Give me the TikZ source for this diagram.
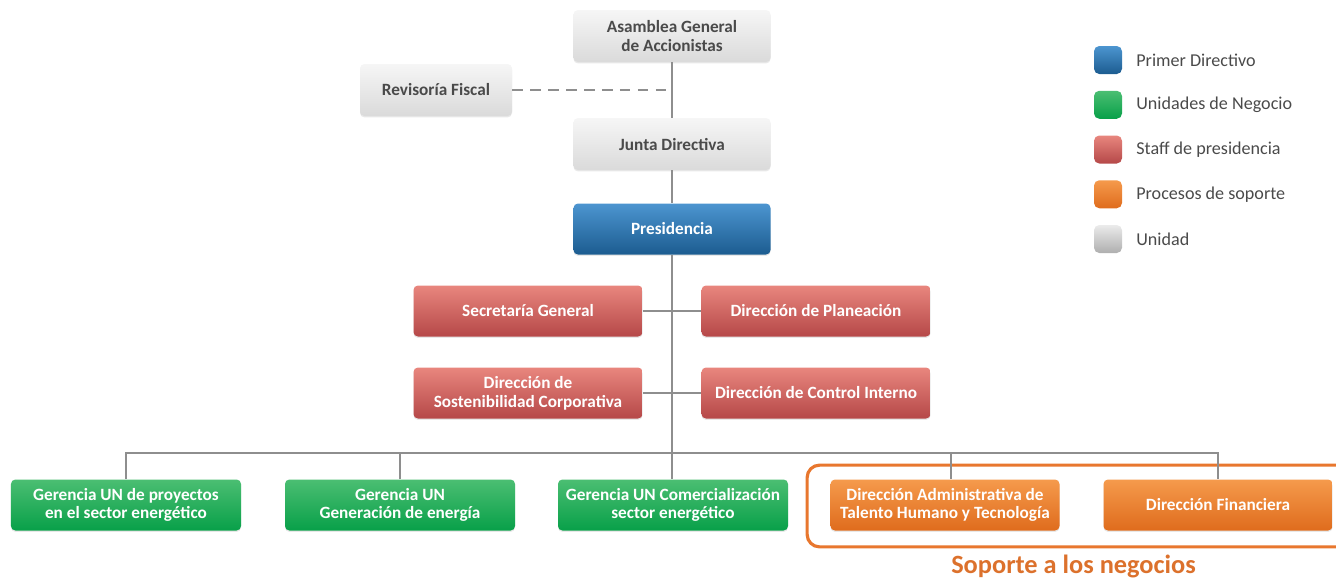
\documentclass[tikz,border=0pt]{standalone}
\usepackage{fontspec}
\setmainfont{Carlito}
\usetikzlibrary{shadows}

\definecolor{grisA}{HTML}{F6F6F6}
\definecolor{grisB}{HTML}{DADADA}
\definecolor{grisT}{HTML}{4A4A4A}
\definecolor{azulA}{HTML}{4C95D0}
\definecolor{azulB}{HTML}{1C5C90}
\definecolor{rojoA}{HTML}{E8867E}
\definecolor{rojoB}{HTML}{B54848}
\definecolor{verdeA}{HTML}{4BBE72}
\definecolor{verdeB}{HTML}{08A049}
\definecolor{naranjaA}{HTML}{F59A4C}
\definecolor{naranjaB}{HTML}{DF6C1D}
\definecolor{marco}{HTML}{E8772E}
\definecolor{linea}{HTML}{8E8E8E}

\begin{document}
\begin{tikzpicture}[node distance=1.7cm]

\tikzstyle{BASE} = [rectangle, rounded corners=2.5pt, minimum height=1.02cm, align=center, inner sep=1pt, font=\fontsize{9.8}{10.6}\selectfont\bfseries, text=white, drop shadow={opacity=0.18, shadow xshift=0pt, shadow yshift=-0.8pt}]
\tikzstyle{GRIS} = [BASE, minimum width=3.94cm, minimum height=1.04cm, top color=grisA, bottom color=grisB, text=grisT]
\tikzstyle{GRISC} = [GRIS, minimum width=3.04cm]
\tikzstyle{AZUL} = [BASE, minimum width=3.94cm, top color=azulA, bottom color=azulB]
\tikzstyle{ROJO} = [BASE, minimum width=4.58cm, top color=rojoA, bottom color=rojoB]
\tikzstyle{VERDE} = [BASE, minimum width=4.6cm, top color=verdeA, bottom color=verdeB]
\tikzstyle{NARANJA} = [BASE, minimum width=4.58cm, top color=naranjaA, bottom color=naranjaB]
\tikzstyle{CUADRO} = [rectangle, rounded corners=3pt, minimum size=0.56cm, inner sep=0pt]
\tikzstyle{LEYENDA} = [font=\fontsize{10.3}{12}\selectfont, text=grisT, inner sep=0pt]
\tikzstyle{LINEA} = [draw=linea, line width=1.1pt]

\useasboundingbox (0,0) rectangle (26.72,-11.62);

% direccion
\node (asamblea) [GRIS] at (13.44,-0.72) {Asamblea General\\de Accionistas};
\node (revisoria) [GRISC, below of=asamblea, xshift=-4.72cm, yshift=0.62cm] {Revisoría Fiscal};
\node (junta) [GRIS, below of=asamblea, yshift=-0.46cm] {Junta Directiva};
\node (pres) [AZUL, below of=junta] {Presidencia};

% staff
\node (secre) [ROJO, below of=pres, xshift=-2.88cm, yshift=0.06cm] {Secretaría General};
\node (plan) [ROJO, below of=pres, xshift=2.88cm, yshift=0.06cm] {Dirección de Planeación};
\node (sosten) [ROJO, below of=secre, yshift=0.06cm] {Dirección de\\Sostenibilidad Corporativa};
\node (control) [ROJO, below of=plan, yshift=0.06cm] {Dirección de Control Interno};

% unidades y soporte
\node (gun3) [VERDE, below of=sosten, xshift=2.9cm, yshift=-0.54cm] {Gerencia UN Comercialización\\sector energético};
\node (gun2) [VERDE, node distance=5.46cm, left of=gun3] {Gerencia UN\\Generación de energía};
\node (gun1) [VERDE, node distance=5.48cm, left of=gun2] {Gerencia UN de proyectos\\en el sector energético};
\node (dir1) [NARANJA, node distance=5.44cm, right of=gun3] {Dirección Administrativa de\\Talento Humano y Tecnología};
\node (dir2) [NARANJA, node distance=5.46cm, right of=dir1] {Dirección Financiera};

\draw[draw=marco, line width=1.8pt, rounded corners=7pt] ([xshift=-0.46cm, yshift=0.28cm]dir1.north west) rectangle ([xshift=1.6cm, yshift=-0.32cm]dir2.south east);
\node (soporte) [anchor=base, text=marco!95!black, font=\fontsize{15}{18}\selectfont\bfseries] at (21.47,-11.47) {Soporte a los negocios};

% leyenda
\node (lazul) [CUADRO, top color=azulA, bottom color=azulB] at (22.16,-1.20) {};
\node (lverde) [CUADRO, top color=verdeA, bottom color=verdeB, node distance=0.895cm, below of=lazul] {};
\node (lrojo) [CUADRO, top color=rojoA, bottom color=rojoB, node distance=0.895cm, below of=lverde] {};
\node (lnaranja) [CUADRO, top color=naranjaA, bottom color=naranjaB, node distance=0.895cm, below of=lrojo] {};
\node (lgris) [CUADRO, top color=grisA!60!grisB, bottom color=grisB!80!black, node distance=0.895cm, below of=lnaranja] {};
\node (tazul) [LEYENDA, node distance=0.56cm, right of=lazul, anchor=west] {Primer Directivo};
\node (tverde) [LEYENDA, node distance=0.56cm, right of=lverde, anchor=west] {Unidades de Negocio};
\node (trojo) [LEYENDA, node distance=0.56cm, right of=lrojo, anchor=west] {Staff de presidencia};
\node (tnaranja) [LEYENDA, node distance=0.56cm, right of=lnaranja, anchor=west] {Procesos de soporte};
\node (tgris) [LEYENDA, node distance=0.56cm, right of=lgris, anchor=west] {Unidad};

% lineas
\draw[LINEA] (asamblea) to (junta);
\draw[LINEA] (junta) to (pres);
\draw[LINEA] (pres.south) to (pres.south |- gun3.north);
\draw[LINEA, dash pattern=on 6pt off 4.2pt] (revisoria.east) to (revisoria.east -| asamblea.south);
\draw[LINEA] (secre) to (plan);
\draw[LINEA] (sosten) to (control);
\draw[LINEA] (gun1.north) -- ++(0,0.53) -| (dir2.north);
\draw[LINEA] (gun2.north) -- ++(0,0.53);
\draw[LINEA] ([xshift=0.12cm]dir1.north) -- ++(0,0.53);

\end{tikzpicture}
\end{document}
